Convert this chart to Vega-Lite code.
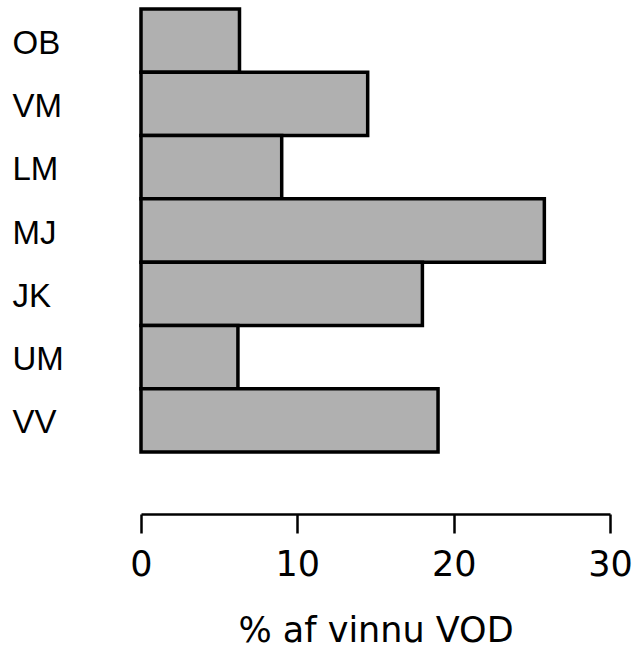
{
  "$schema": "https://vega.github.io/schema/vega-lite/v6.json",
  "width": 469,
  "height": 443,
  "autosize": "none",
  "padding": {"left": 141, "top": 9, "right": 30, "bottom": 197},
  "background": "white",
  "config": {"view": {"stroke": null}},
  "data": {
    "values": [
      {"group": "OB", "pct": 6.3},
      {"group": "VM", "pct": 14.5},
      {"group": "LM", "pct": 9.0},
      {"group": "MJ", "pct": 25.8},
      {"group": "JK", "pct": 18.0},
      {"group": "UM", "pct": 6.2},
      {"group": "VV", "pct": 19.0}
    ]
  },
  "mark": {"type": "bar", "fill": "#b0b0b0", "stroke": "black", "strokeWidth": 3.5},
  "encoding": {
    "y": {
      "field": "group",
      "type": "nominal",
      "sort": null,
      "scale": {"paddingInner": 0, "paddingOuter": 0},
      "axis": {
        "title": null,
        "domain": false,
        "ticks": false,
        "labelAlign": "left",
        "labelPadding": 129,
        "labelOffset": 3,
        "labelFont": "Liberation Sans",
        "labelFontSize": 33,
        "labelColor": "black"
      }
    },
    "x": {
      "field": "pct",
      "type": "quantitative",
      "scale": {"domain": [0, 30]},
      "axis": {
        "title": "% af vinnu VOD",
        "values": [0, 10, 20, 30],
        "grid": false,
        "offset": 62,
        "domainColor": "black",
        "domainWidth": 2.5,
        "tickColor": "black",
        "tickWidth": 2.5,
        "tickSize": 19,
        "labelFlush": false,
        "labelFont": "DejaVu Sans",
        "labelFontSize": 35,
        "labelColor": "black",
        "labelPadding": 14,
        "titleFont": "DejaVu Sans",
        "titleFontSize": 35,
        "titleFontWeight": "normal",
        "titleColor": "black",
        "titlePadding": 31
      }
    }
  }
}
